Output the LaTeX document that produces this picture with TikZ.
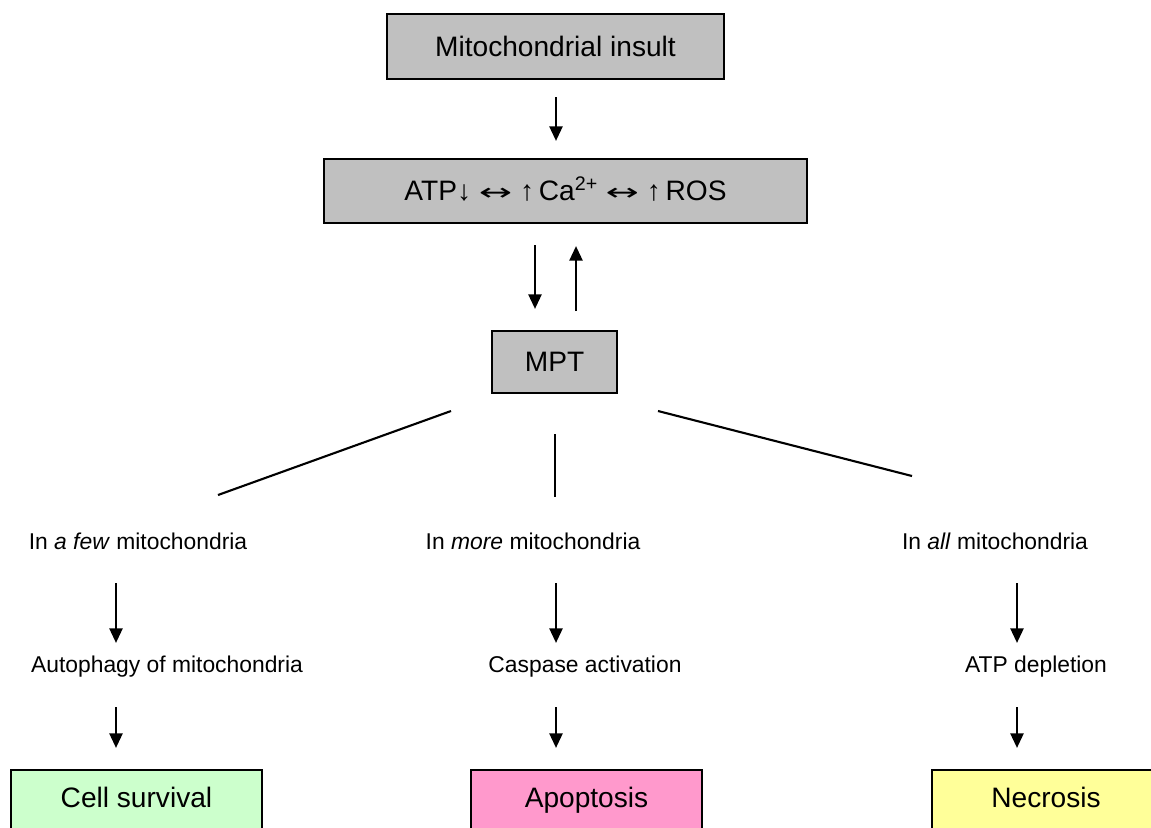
\documentclass[tikz,border=0pt]{standalone}
\usepackage{fontspec}
\usepackage{graphicx}
\setmainfont{Liberation Sans}
\newfontfamily\symfont{DejaVu Sans}
\newcommand{\twoway}{\scalebox{1.7}[1]{\symfont\fontsize{20}{24}\selectfont ↔}}
\definecolor{boxgray}{RGB}{192, 192, 192}
\definecolor{survgreen}{RGB}{204, 255, 204}
\definecolor{apopink}{RGB}{255, 153, 204}
\definecolor{necyellow}{RGB}{255, 255, 153}
\usetikzlibrary{arrows.meta, calc, positioning}

\tikzset{
	box/.style = {draw, line width = 1.3pt, fill = boxgray, inner sep = 0pt, text height = 17pt, text depth = 0pt, font = \fontsize{24}{28}\selectfont},
	outcome/.style = {box, minimum height = 1.86cm, text depth = 6.6pt},
	lbl/.style = {inner sep = 0pt, font = \fontsize{19.5}{23}\selectfont},
	arr/.style = {line width = 2.3pt, -{Triangle[length = 12.5pt, width = 11pt]}},
	branch/.style = {line width = 1.8pt}
}

\begin{document}
\begin{tikzpicture}[x = 0.03cm, y = -0.03cm]
	\useasboundingbox (0, 0) rectangle (1151, 827);
	\clip (0, 0) rectangle (1151, 827);

	% top chain
	\node[box, minimum width = 10.11cm, minimum height = 1.95cm] (insult) at (555.5, 46.5) {Mitochondrial insult};
	\node[box, minimum width = 14.49cm, minimum height = 1.92cm] (atp) at (565.5, 191) {ATP↓ \twoway{} ↑\,Ca\textsuperscript{2+} \twoway{} ↑\,ROS};
	\node[box, minimum width = 3.75cm, minimum height = 1.86cm] (mpt) at (554.5, 362) {MPT};

	% three levels
	\node[lbl] (few) at (138, 541) {In \textit{a few} mitochondria};
	\node[lbl] (more) at (533, 541) {In \textit{more} mitochondria};
	\node[lbl] (all) at (995, 541) {In \textit{all} mitochondria};

	\node[lbl] (autophagy) at (167, 667) {Autophagy of mitochondria};
	\node[lbl] (caspase) at (585, 667) {Caspase activation};
	\node[lbl] (depletion) at (1036, 667) {ATP depletion};

	% outcomes
	\node[outcome, fill = survgreen, minimum width = 7.53cm] (survival) at (136.5, 801) {Cell survival};
	\node[outcome, fill = apopink, minimum width = 6.93cm] (apoptosis) at (586.5, 801) {Apoptosis};
	\node[outcome, fill = necyellow, minimum width = 6.84cm] (necrosis) at (1046, 801) {Necrosis};

	\draw[arr] ($(insult) + (0.5, 50.5)$) -- ($(atp) + (-9.5, -50)$);
	\draw[arr] ($(atp) + (-30.5, 54)$) -- ($(mpt) + (-19.5, -53)$);
	\draw[arr] ($(mpt) + (21.5, -51)$) -- ($(atp) + (10.5, 55)$);

	\draw[branch] ($(mpt) + (-103.5, 49)$) -- ($(few) + (80, -46)$);
	\draw[branch] ($(mpt) + (0.5, 72)$) -- ($(more) + (22, -44)$);
	\draw[branch] ($(mpt) + (103.5, 49)$) -- ($(all) + (-83, -65)$);

	\draw[arr] ($(few) + (-22, 42)$) -- ($(autophagy) + (-51, -24)$);
	\draw[arr] ($(more) + (23, 42)$) -- ($(caspase) + (-29, -24)$);
	\draw[arr] ($(all) + (22, 42)$) -- ($(depletion) + (-19, -24)$);

	\draw[arr] ($(autophagy) + (-51, 40)$) -- ($(survival) + (-20.5, -53)$);
	\draw[arr] ($(caspase) + (-29, 40)$) -- ($(apoptosis) + (-30.5, -53)$);
	\draw[arr] ($(depletion) + (-19, 40)$) -- ($(necrosis) + (-29, -53)$);
\end{tikzpicture}
\end{document}
